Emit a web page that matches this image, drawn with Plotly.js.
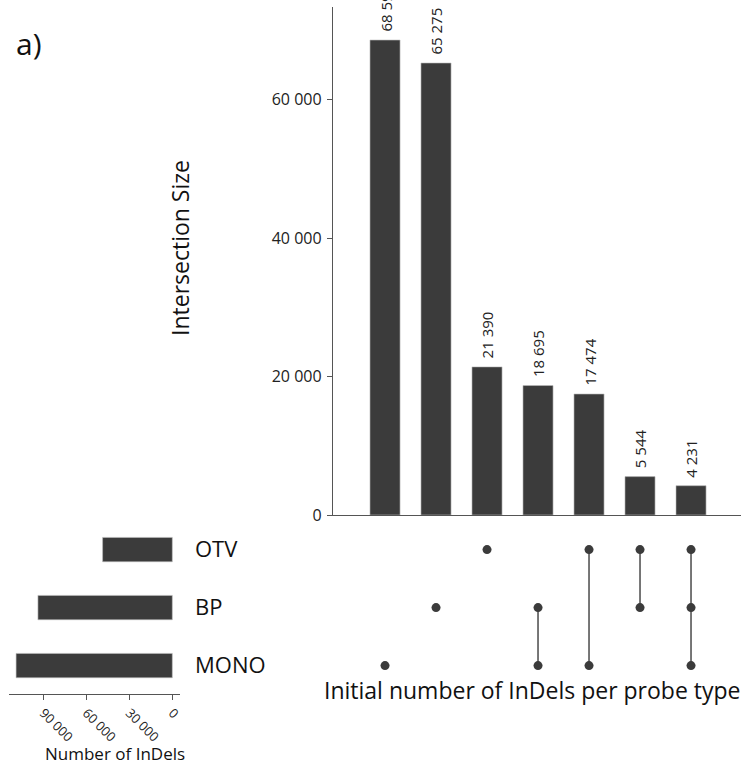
<!DOCTYPE html>
<html>
<head>
<meta charset="utf-8">
<script src="https://cdn.plot.ly/plotly-3.0.1.min.js"></script>
<style>html,body{margin:0;padding:0;background:#fff;}#chart{width:743px;height:766px;}</style>
</head>
<body>
<div id="chart"></div>
<script>
// ---- data ----
const setNames = ["MONO", "BP", "OTV"];
const setSizes = [108992, 93745, 48639];
const intersectionSizes = [68592, 65275, 21390, 18695, 17474, 5544, 4231];
const intersectionSets = [
  ["MONO"], ["BP"], ["OTV"], ["MONO", "BP"], ["MONO", "OTV"], ["BP", "OTV"], ["MONO", "BP", "OTV"]
];
const mainTicks = [0, 20000, 40000, 60000];
const sideTicks = [0, 30000, 60000, 90000];

// ---- helpers ----
function fmt(v) { return String(v).replace(/\B(?=(\d{3})+(?!\d))/g, " "); }
const W = 743, H = 766;
const px = v => v / W, py = v => 1 - v / H;
const dark = "#3b3b3b";
const font = "Open Sans, Noto Sans, sans-serif";

const colIdx = intersectionSizes.map((_, i) => i);

const traces = [];
traces.push({
  type: "bar", x: colIdx, y: intersectionSizes, xaxis: "x", yaxis: "y",
  marker: { color: dark, line: { color: "#bdbdbd", width: 0.6 } }, width: 0.59,
  hoverinfo: "skip", showlegend: false
});
traces.push({
  type: "bar", orientation: "h", x: setSizes, y: setNames, xaxis: "x2", yaxis: "y2",
  marker: { color: dark, line: { color: "#bdbdbd", width: 0.6 } }, width: 0.42,
  hoverinfo: "skip", showlegend: false
});
// matrix lines
const lx = [], ly = [];
intersectionSets.forEach((s, i) => {
  if (s.length > 1) {
    const idx = s.map(n => setNames.indexOf(n));
    lx.push(i, i, null);
    ly.push(setNames[Math.min(...idx)], setNames[Math.max(...idx)], null);
  }
});
traces.push({
  type: "scatter", mode: "lines", x: lx, y: ly, xaxis: "x3", yaxis: "y2",
  line: { color: "#555", width: 1.6 }, connectgaps: false, hoverinfo: "skip", showlegend: false
});
const dx = [], dy = [];
intersectionSets.forEach((s, i) => s.forEach(n => { dx.push(i); dy.push(n); }));
traces.push({
  type: "scatter", mode: "markers", x: dx, y: dy, xaxis: "x3", yaxis: "y2",
  marker: { color: dark, size: 9 }, hoverinfo: "skip", showlegend: false
});

const barLabels = intersectionSizes.map((v, i) => ({
  text: fmt(v), x: i, y: v, xref: "x", yref: "y", textangle: -90,
  xanchor: "center", yanchor: "bottom", yshift: 6, showarrow: false,
  font: { size: 15, color: "#222" }
}));

const layout = {
  width: W, height: H, margin: { l: 0, r: 0, t: 0, b: 0 },
  paper_bgcolor: "#fff", plot_bgcolor: "rgba(0,0,0,0)",
  separators: ". ", showlegend: false,
  font: { family: font, color: "#222" },
  xaxis: {
    domain: [px(333), px(741)], anchor: "y", range: [-1.02, 6.98],
    showline: true, linecolor: "#555", linewidth: 1.2, showgrid: false, zeroline: false,
    showticklabels: false, ticks: ""
  },
  yaxis: {
    domain: [py(515), py(7)], anchor: "x", range: [0, 73360],
    showline: true, linecolor: "#555", linewidth: 1.2, showgrid: false, zeroline: false,
    ticks: "outside", ticklen: 5, tickcolor: "#555", tickvals: mainTicks,
    ticktext: mainTicks.map(fmt), tickfont: { size: 16, color: "#222" }, ticklabelstandoff: 2
  },
  xaxis2: {
    domain: [px(9), px(180)], anchor: "y2", range: [113930, -5372],
    showline: true, linecolor: "#555", linewidth: 1.2, showgrid: false, zeroline: false,
    ticks: "outside", ticklen: 5, tickcolor: "#555", tickvals: sideTicks,
    ticktext: sideTicks.map(fmt), tickangle: 45, tickfont: { size: 13, color: "#222" }
  },
  yaxis2: {
    domain: [py(694), py(520)], anchor: "x2", side: "right", type: "category",
    categoryorder: "array", categoryarray: setNames, range: [-0.49, 2.51],
    showline: false, showgrid: false, zeroline: false, ticks: "",
    tickfont: { size: 22, color: "#111" }, ticklabelstandoff: 14
  },
  xaxis3: {
    domain: [px(333), px(741)], anchor: "y2", matches: "x", visible: false
  },
  annotations: barLabels.concat([
    { text: "a)", x: px(14), y: py(44), xref: "paper", yref: "paper", xanchor: "left", yanchor: "middle",
      showarrow: false, font: { size: 30, color: "#111" } },
    { text: "Intersection Size", x: px(180), y: py(248), xref: "paper", yref: "paper", textangle: -90,
      xanchor: "center", yanchor: "middle", showarrow: false, font: { size: 23, color: "#111" } },
    { text: "Initial number of InDels per probe type", x: px(532), y: py(690), xref: "paper", yref: "paper",
      xanchor: "center", yanchor: "middle", showarrow: false, font: { size: 23, color: "#111" } },
    { text: "Number of InDels", x: px(115), y: py(753), xref: "paper", yref: "paper",
      xanchor: "center", yanchor: "middle", showarrow: false, font: { size: 17, color: "#111" } }
  ])
};

Plotly.newPlot("chart", traces, layout, { staticPlot: true, displayModeBar: false });
</script>
</body>
</html>
